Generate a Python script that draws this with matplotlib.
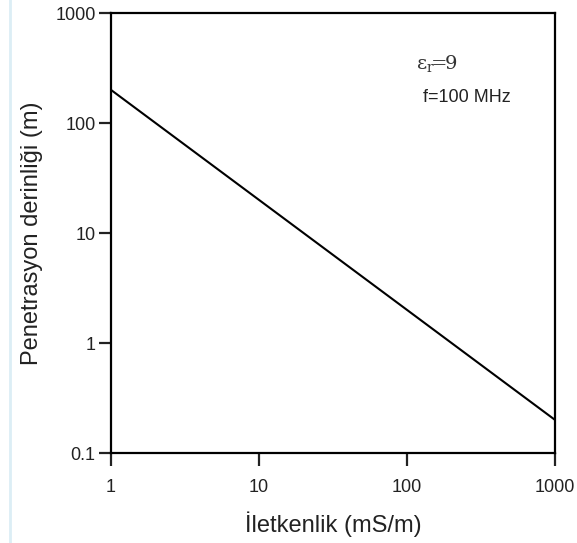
import matplotlib
matplotlib.use("Agg")
import matplotlib.pyplot as plt
from matplotlib.ticker import FixedLocator, NullLocator

conductivity = [1, 1000]          # mS/m
depth = [200, 0.2]                # m
x_ticks = [1, 10, 100, 1000]
x_labels = ["1", "10", "100", "1000"]
y_ticks = [0.1, 1, 10, 100, 1000]
y_labels = ["0.1", "1", "10", "100", "1000"]

plt.rcParams['font.family'] = ['Liberation Sans', 'DejaVu Sans']

fig = plt.figure(figsize=(5.77, 5.43), dpi=100)
fig.add_artist(plt.Line2D([0.017, 0.017], [0.0, 1.0], color='#dceef5', lw=2))
ax = fig.add_axes([0.1924, 0.1657, 0.7695, 0.8103])
ax.plot(conductivity, depth, color='black', lw=1.5)
ax.set_xscale('log')
ax.set_yscale('log')
ax.set_xlim(1, 1000)
ax.set_ylim(0.1, 1000)
ax.xaxis.set_major_locator(FixedLocator(x_ticks))
ax.xaxis.set_minor_locator(NullLocator())
ax.yaxis.set_major_locator(FixedLocator(y_ticks))
ax.yaxis.set_minor_locator(NullLocator())
ax.set_xticklabels(x_labels)
ax.set_yticklabels(y_labels)
for s in ax.spines.values():
    s.set_linewidth(1.6)
ax.tick_params(direction='out', length=9, width=1.6, labelsize=13, colors='#222222')
ax.tick_params(axis='x', pad=10)
ax.tick_params(axis='y', pad=2)
ax.set_xlabel("İletkenlik (mS/m)", fontsize=17, labelpad=11, color='#222222')
ax.set_ylabel("Penetrasyon derinliği (m)", fontsize=17, labelpad=9, color='#222222')
ax.text(0.686, 0.885, r"$\mathrm{\varepsilon}_{\mathrm{r}}\!\!=\!\!\mathrm{9}$", transform=ax.transAxes,
        fontsize=14, math_fontfamily='dejavuserif', va='center', color='#333333')
ax.text(0.703, 0.807, "f=100 MHz", transform=ax.transAxes, fontsize=13, va='center', color='#222222')
fig.savefig("out.png", dpi=100)
